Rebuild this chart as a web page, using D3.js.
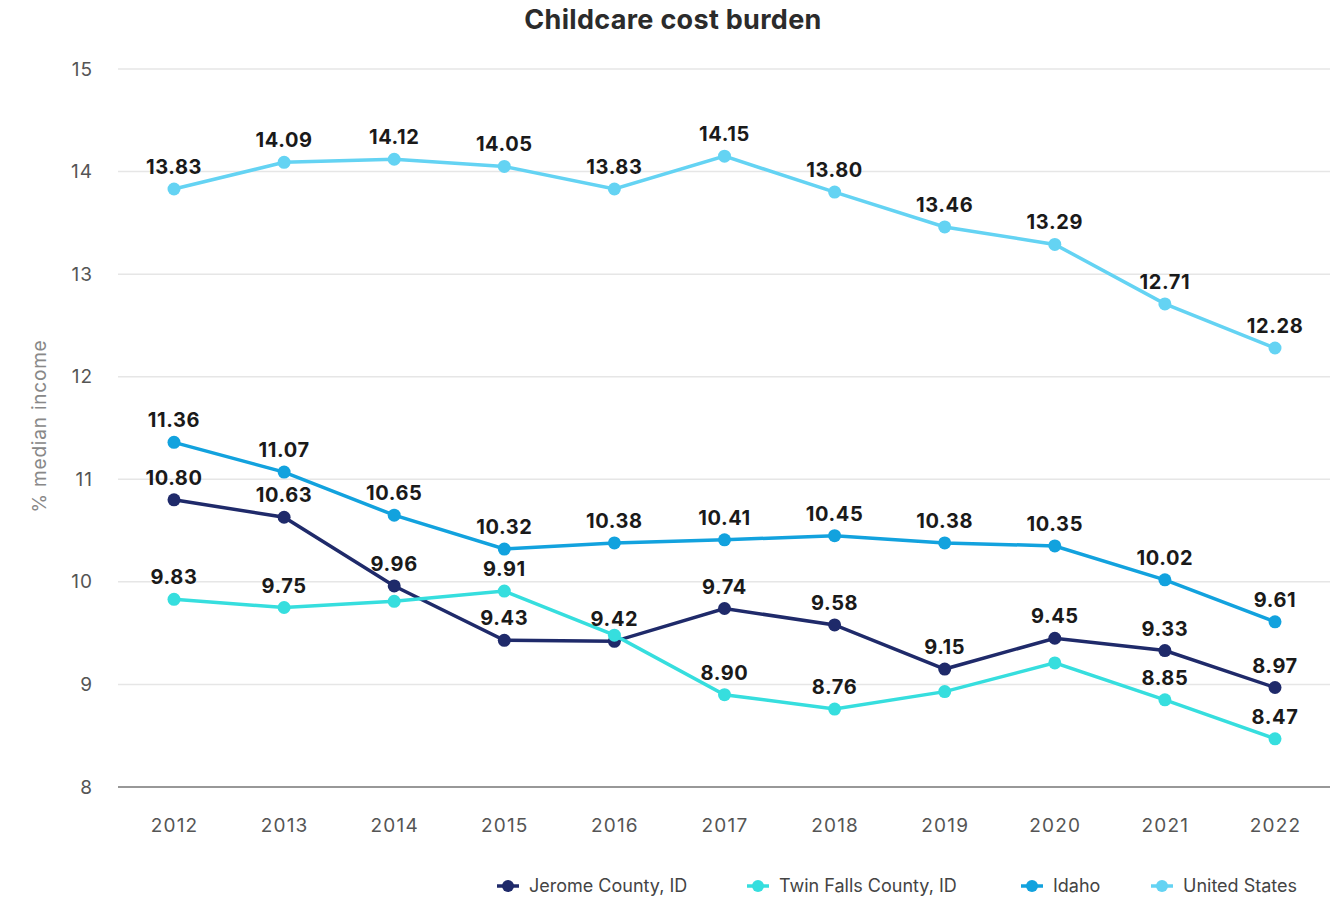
<!DOCTYPE html>
<html><head><meta charset="utf-8">
<script src="https://cdn.jsdelivr.net/npm/d3@7"></script>
<style>body{margin:0;background:#fff;font-family:Inter,"Liberation Sans",sans-serif;}</style>
</head><body><svg id="c" width="1343" height="898"></svg>
<script>
const years = ["2012","2013","2014","2015","2016","2017","2018","2019","2020","2021","2022"];
const jerome = [10.80,10.63,9.96,9.43,9.42,9.74,9.58,9.15,9.45,9.33,8.97];
const twinFalls = [9.83,9.75,9.81,9.91,9.48,8.90,8.76,8.93,9.21,8.85,8.47];
const idaho = [11.36,11.07,10.65,10.32,10.38,10.41,10.45,10.38,10.35,10.02,9.61];
const unitedStates = [13.83,14.09,14.12,14.05,13.83,14.15,13.80,13.46,13.29,12.71,12.28];
const twinFallsHiddenLabels = ["2014","2016","2019","2020"];
const yTicks = [8,9,10,11,12,13,14,15];
const seriesNames = ["Jerome County, ID","Twin Falls County, ID","Idaho","United States"];
const colors = ["#1f2a6a","#36dede","#12a2de","#64d3f3"];

(function(){
const series = [
  {name:seriesNames[0], values:jerome, color:colors[0], hide:[]},
  {name:seriesNames[1], values:twinFalls, color:colors[1], hide:twinFallsHiddenLabels},
  {name:seriesNames[2], values:idaho, color:colors[2], hide:[]},
  {name:seriesNames[3], values:unitedStates, color:colors[3], hide:[]}
];

const svg = d3.select("#c");
const pl = 118, pr = 1330, pt = 69, pb = 787;
const x = d3.scalePoint().domain(years).range([174,1275]);
const y = d3.scaleLinear().domain([8,15]).range([pb, pt]);

svg.append("text").attr("x",673).attr("y",29).attr("text-anchor","middle")
  .attr("font-size",27).attr("font-weight",700).attr("letter-spacing",0.3).attr("fill","#2b2b2b").text("Childcare cost burden");

svg.append("g").selectAll("line").data(yTicks.filter(t=>t>8)).join("line")
  .attr("x1",pl).attr("x2",pr).attr("y1",d=>y(d)).attr("y2",d=>y(d))
  .attr("stroke","#e6e6e6").attr("stroke-width",1.5);
svg.append("line").attr("x1",pl).attr("x2",pr).attr("y1",pb).attr("y2",pb)
  .attr("stroke","#333").attr("stroke-width",1.2);

const ya = svg.append("g").attr("transform",`translate(${pl},0)`)
  .call(d3.axisLeft(y).tickValues(yTicks).tickSize(0).tickPadding(25).tickFormat(d3.format("d")));
ya.select(".domain").remove();
ya.selectAll("text").attr("font-size",19).attr("letter-spacing",1).attr("fill","#555").attr("font-family","Inter,'Liberation Sans',sans-serif");

const xa = svg.append("g").attr("transform",`translate(0,${pb})`)
  .call(d3.axisBottom(x).tickSize(0).tickPadding(32));
xa.select(".domain").remove();
xa.selectAll("text").attr("font-size",19).attr("letter-spacing",1.2).attr("fill","#555").attr("font-family","Inter,'Liberation Sans',sans-serif");

svg.append("text").attr("transform","translate(46,426) rotate(-90)").attr("text-anchor","middle")
  .attr("font-size",19).attr("letter-spacing",0.8).attr("fill","#888").text("% median income");

const line = d3.line().x((d,i)=>x(years[i])).y(d=>y(d));
series.forEach(s=>{
  const g = svg.append("g");
  g.append("path").attr("d",line(s.values)).attr("fill","none").attr("stroke",s.color).attr("stroke-width",3.5);
  g.selectAll("circle").data(s.values).join("circle")
    .attr("cx",(d,i)=>x(years[i])).attr("cy",d=>y(d)).attr("r",6.5).attr("fill",s.color);
});
series.forEach(s=>{
  svg.append("g").selectAll("text").data(s.values.map((v,i)=>({v,yr:years[i]})).filter(d=>!s.hide.includes(d.yr)))
    .join("text").attr("x",d=>x(d.yr)).attr("y",d=>y(d.v)-15).attr("text-anchor","middle")
    .attr("font-size",20).attr("font-weight",700).attr("letter-spacing",0.6).attr("fill","#1a1a1a").text(d=>d.v.toFixed(2));
});

const legX = [508,758,1032,1162];
const lg = svg.append("g");
series.forEach((s,i)=>{
  const gx = legX[i], gy = 886;
  lg.append("line").attr("x1",gx-11).attr("x2",gx+11).attr("y1",gy).attr("y2",gy).attr("stroke",s.color).attr("stroke-width",3.5);
  lg.append("circle").attr("cx",gx).attr("cy",gy).attr("r",6).attr("fill",s.color);
  lg.append("text").attr("x",gx+21).attr("y",gy+6).attr("font-size",18).attr("fill","#444").text(s.name);
});
})();
</script></body></html>
